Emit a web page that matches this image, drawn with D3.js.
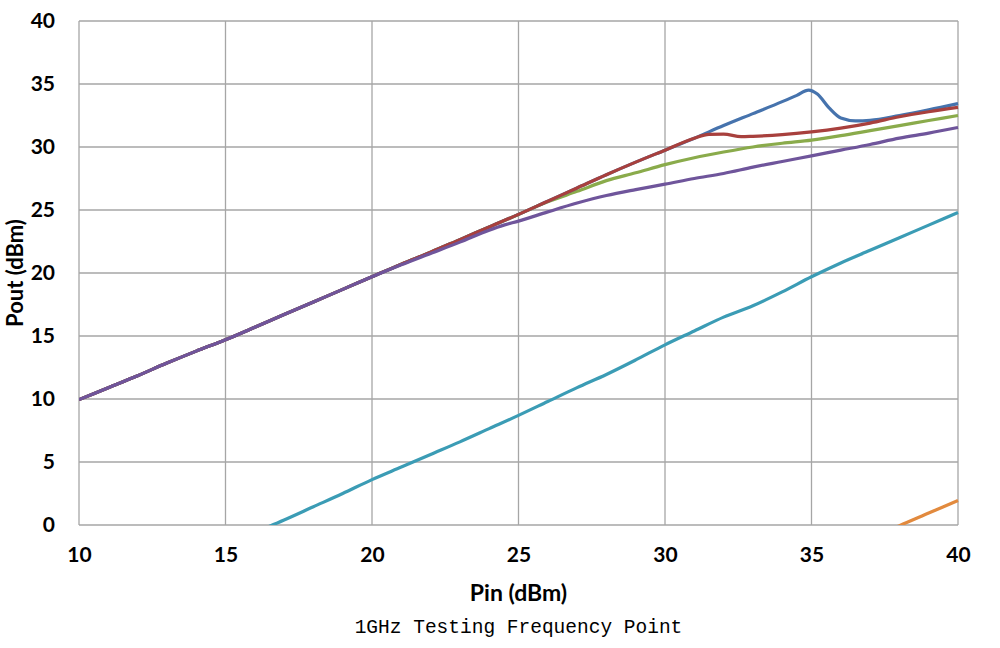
<!DOCTYPE html>
<html>
<head>
<meta charset="utf-8">
<script src="https://cdn.jsdelivr.net/npm/d3@7"></script>
<style>
  body { margin: 0; background: #fff; }
  .tick text { font-family: Lato, "Open Sans", sans-serif; font-weight: bold; font-size: 21px; fill: #000; }
</style>
</head>
<body>
<div id="container"></div>
<script>
// Pout vs Pin, six traces
var pinCommon = [10,11,12,13,14,15,16,17,18,19,20,21,22,23,24,25];
var poutCommon = [9.95,10.9,11.85,12.85,13.8,14.7,15.7,16.7,17.7,18.7,19.7,20.7,21.65,22.65,23.65,24.65];

var pinBlue = [26,27,28,29,30,31,32,33,34,34.5,34.9,35.2,35.6,36,36.5,37,38,39,40];
var poutBlue = [25.7,26.75,27.8,28.8,29.75,30.7,31.7,32.65,33.6,34.1,34.52,34.2,33.1,32.3,32.08,32.12,32.5,32.95,33.45];

var pinRed = [26,27,28,29,30,31,31.5,32,32.6,33,34,35,36,37,38,39,40];
var poutRed = [25.7,26.75,27.8,28.8,29.75,30.7,31.0,31.02,30.82,30.85,30.98,31.2,31.5,31.9,32.4,32.8,33.15];

var pinGreen = [26,27,28,29,30,31,32,33,34,35,36,37,38,39,40];
var poutGreen = [25.65,26.48,27.33,27.95,28.6,29.15,29.6,30.0,30.3,30.55,30.9,31.3,31.7,32.1,32.5];

var pinPurple = [21,22,23,24,24.5,25,26,27,28,29,30,31,32,33,34,35,36,37,38,39,40];
var poutPurple = [20.65,21.55,22.45,23.4,23.8,24.12,24.85,25.55,26.15,26.62,27.05,27.5,27.9,28.4,28.85,29.3,29.75,30.2,30.7,31.1,31.55];

var pinTeal = [16,17,18,19,20,21,22,23,24,25,26,27,28,29,30,31,32,33,34,35,36,37,38,39,40];
var poutTeal = [-0.6,0.4,1.45,2.5,3.6,4.6,5.6,6.6,7.65,8.7,9.8,10.9,11.95,13.1,14.3,15.4,16.5,17.4,18.5,19.7,20.8,21.8,22.8,23.8,24.8];

var pinOrange = [37,38,39,40];
var poutOrange = [-1.0,-0.05,0.95,1.95];

var xTicks = [10,15,20,25,30,35,40];
var yTicks = [0,5,10,15,20,25,30,35,40];

var w = 1000, h = 648;
var m = [21, 42, 123, 79]; // top right bottom left

var svg = d3.select("#container").append("svg").attr("width", w).attr("height", h);

var x = d3.scaleLinear().domain([10, 40]).range([m[3], w - m[1]]);
var y = d3.scaleLinear().domain([0, 40]).range([h - m[2], m[0]]);

function zip(a, b) { return a.map(function(d, i) { return [d, b[i]]; }); }

var common = zip(pinCommon, poutCommon);
var series = [
  { color: "#8aab4b", pts: common.concat(zip(pinGreen, poutGreen)) },
  { color: "#4673ad", pts: common.concat(zip(pinBlue, poutBlue)) },
  { color: "#a8403d", pts: common.concat(zip(pinRed, poutRed)) },
  { color: "#6f559b", pts: common.slice(0, 11).concat(zip(pinPurple, poutPurple)) },
  { color: "#3b9cb5", pts: zip(pinTeal, poutTeal) },
  { color: "#e28a3e", pts: zip(pinOrange, poutOrange) }
];

// grid
svg.append("g").selectAll("line").data(yTicks).enter().append("line")
  .attr("x1", x(10)).attr("x2", x(40))
  .attr("y1", function(d) { return y(d); }).attr("y2", function(d) { return y(d); })
  .attr("stroke", "#a6a6a6").attr("stroke-width", 1.3);
svg.append("g").selectAll("line").data(xTicks).enter().append("line")
  .attr("y1", y(0)).attr("y2", y(40))
  .attr("x1", function(d) { return x(d); }).attr("x2", function(d) { return x(d); })
  .attr("stroke", "#a6a6a6").attr("stroke-width", 1.3);

// axes (labels only)
var xAxis = svg.append("g").attr("transform", "translate(0," + y(0) + ")")
  .call(d3.axisBottom(x).tickValues(xTicks).tickSize(0).tickPadding(22));
xAxis.select(".domain").remove();
var yAxis = svg.append("g").attr("transform", "translate(" + x(10) + ",0)")
  .call(d3.axisLeft(y).tickValues(yTicks).tickSize(0).tickPadding(24));
yAxis.select(".domain").remove();

svg.append("clipPath").attr("id", "plot").append("rect")
  .attr("x", x(10)).attr("y", y(40) - 3).attr("width", x(40) - x(10) + 3).attr("height", y(0) - y(40) + 3);

var line = d3.line()
  .x(function(d) { return x(d[0]); })
  .y(function(d) { return y(d[1]); })
  .curve(d3.curveMonotoneX);

svg.append("g").attr("clip-path", "url(#plot)")
  .selectAll("path").data(series).enter().append("path")
  .attr("d", function(d) { return line(d.pts); })
  .attr("fill", "none")
  .attr("stroke", function(d) { return d.color; })
  .attr("stroke-width", 3.2)
  .attr("stroke-linejoin", "round");

// titles
svg.append("text").attr("x", (x(10) + x(40)) / 2).attr("y", 601)
  .attr("text-anchor", "middle")
  .style("font-family", "Lato, 'Open Sans', sans-serif").style("font-weight", "bold").style("font-size", "23px")
  .text("Pin (dBm)");
svg.append("text").attr("transform", "translate(23," + y(20) + ") rotate(-90)")
  .attr("text-anchor", "middle")
  .style("font-family", "Lato, 'Open Sans', sans-serif").style("font-weight", "bold").style("font-size", "22px")
  .text("Pout (dBm)");
svg.append("text").attr("x", (x(10) + x(40)) / 2).attr("y", 633)
  .attr("text-anchor", "middle")
  .style("font-family", "'Liberation Mono', 'DejaVu Sans Mono', monospace").style("font-size", "19.5px")
  .text("1GHz Testing Frequency Point");
</script>
</body>
</html>
